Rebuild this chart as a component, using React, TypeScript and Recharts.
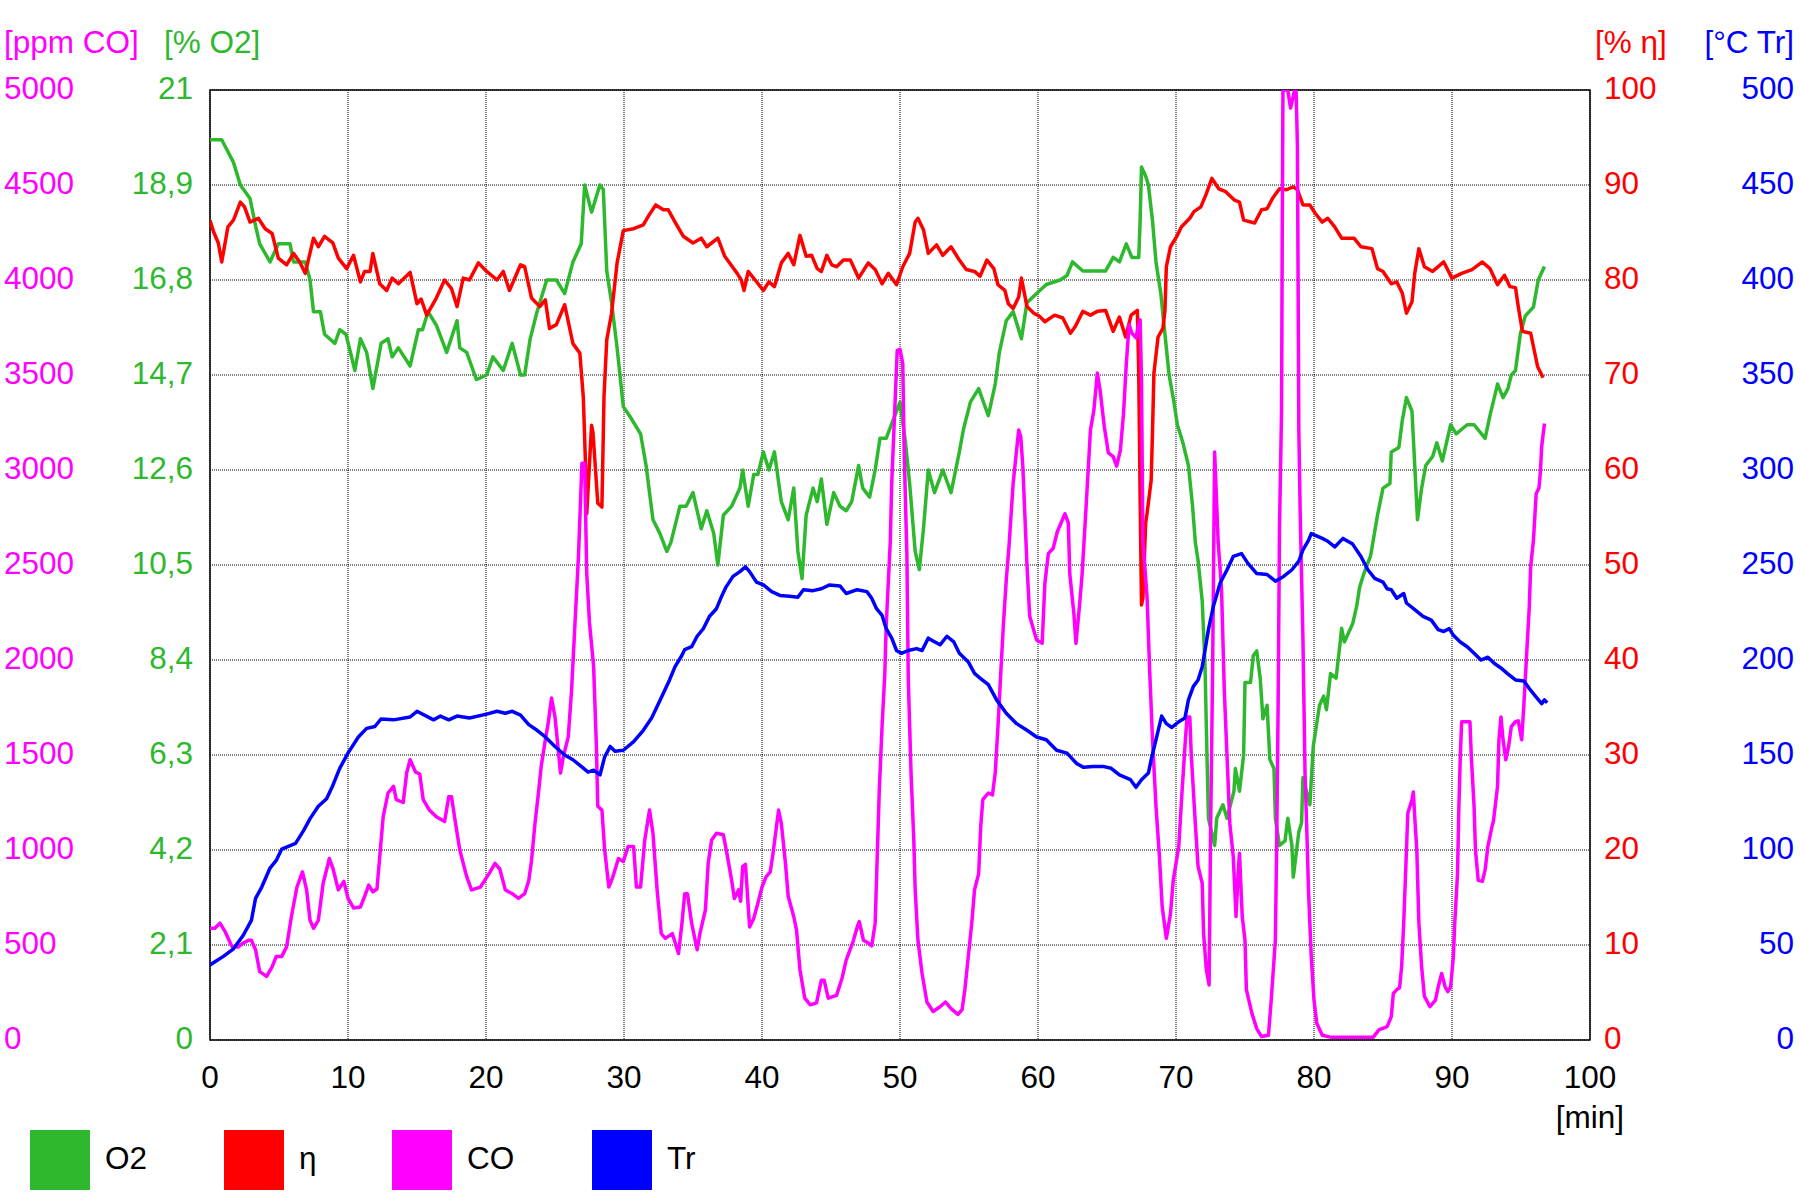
import React from 'react';
import { LineChart, Line, XAxis, YAxis, CartesianGrid, ReferenceArea } from 'recharts';

const FONT = '"Liberation Sans", Arial, sans-serif';
const FS = 31.5;

const GREEN = '#2eb82e';
const RED = '#ff0000';
const MAGENTA = '#ff00ff';
const BLUE = '#0000ff';

// axis ticks
const minuteTicks = [0, 10, 20, 30, 40, 50, 60, 70, 80, 90, 100];
const coTicks = [0, 500, 1000, 1500, 2000, 2500, 3000, 3500, 4000, 4500, 5000];
const o2Ticks = [0, 2.1, 4.2, 6.3, 8.4, 10.5, 12.6, 14.7, 16.8, 18.9, 21];
const etaTicks = [0, 10, 20, 30, 40, 50, 60, 70, 80, 90, 100];
const trTicks = [0, 50, 100, 150, 200, 250, 300, 350, 400, 450, 500];

// [min, % O2]
const o2Points: [number, number][] = [
  [0, 19.9], [0.85, 19.9], [1.7, 19.4], [2.2, 18.9], [2.9, 18.6], [3.3, 18.0], [3.6, 17.6], [4.35, 17.2],
  [4.95, 17.6], [5.8, 17.6], [6.05, 17.2], [6.9, 17.2], [7.25, 16.8], [7.5, 16.1], [8.0, 16.1], [8.3, 15.6],
  [9.05, 15.4], [9.4, 15.7], [9.85, 15.6], [10.5, 14.8], [10.9, 15.5], [11.35, 15.2], [11.8, 14.4], [12.4, 15.4],
  [12.9, 15.5], [13.2, 15.1], [13.65, 15.3], [14.5, 14.9], [15.1, 15.7], [15.4, 15.7], [15.8, 16.1], [16.4, 15.8],
  [17.15, 15.2], [17.9, 15.9], [18.1, 15.3], [18.6, 15.2], [19.3, 14.6], [20.05, 14.7], [20.5, 15.1], [21.25, 14.8],
  [21.9, 15.4], [22.5, 14.7], [22.8, 14.7], [23.2, 15.5], [23.7, 16.1], [24.4, 16.8], [25.1, 16.8], [25.7, 16.5],
  [26.3, 17.2], [26.9, 17.6], [27.15, 18.9], [27.65, 18.3], [28.25, 18.9], [28.5, 18.8], [28.75, 17.0], [29.1, 16.3],
  [29.5, 15.3], [29.95, 14.0], [30.4, 13.8], [31.2, 13.4], [31.6, 12.7], [32.1, 11.5], [32.6, 11.2], [33.1, 10.8],
  [33.4, 11.0], [34.05, 11.8], [34.5, 11.8], [35.0, 12.1], [35.6, 11.3], [36.0, 11.7], [36.5, 11.2], [36.8, 10.5],
  [37.2, 11.6], [37.8, 11.8], [38.4, 12.2], [38.6, 12.6], [39.0, 11.8], [39.4, 12.5], [39.7, 12.5], [40.1, 13.0],
  [40.5, 12.6], [40.9, 13.0], [41.4, 11.9], [41.9, 11.5], [42.3, 12.2], [42.6, 10.8], [42.9, 10.2], [43.2, 11.6],
  [43.7, 12.2], [44.0, 11.9], [44.3, 12.4], [44.7, 11.4], [45.2, 12.1], [45.65, 11.8], [46.1, 11.7], [46.5, 11.9],
  [47.0, 12.7], [47.3, 12.2], [47.8, 12.0], [48.2, 12.6], [48.55, 13.3], [49.0, 13.3], [49.5, 13.7], [50.0, 14.1],
  [50.4, 13.2], [50.7, 12.3], [51.1, 10.8], [51.4, 10.4], [51.7, 11.3], [52.05, 12.6], [52.5, 12.1], [53.1, 12.6],
  [53.7, 12.1], [54.3, 13.0], [54.6, 13.5], [55.1, 14.1], [55.7, 14.4], [56.4, 13.8], [56.9, 14.5], [57.2, 15.2],
  [57.7, 15.9], [58.2, 16.1], [58.8, 15.5], [59.2, 16.3], [59.9, 16.5], [60.6, 16.7], [61.6, 16.8], [62.1, 16.9],
  [62.5, 17.2], [63.25, 17.0], [64.0, 17.0], [64.9, 17.0], [65.45, 17.3], [65.9, 17.2], [66.4, 17.6], [66.8, 17.3],
  [67.3, 17.3], [67.4, 18.1], [67.5, 19.3], [67.8, 19.1], [68.0, 18.9], [68.3, 18.1], [68.55, 17.2], [68.9, 16.5],
  [69.2, 15.6], [69.5, 14.7], [69.85, 14.1], [70.1, 13.6], [70.5, 13.2], [70.9, 12.7], [71.2, 11.8], [71.4, 11.0],
  [71.6, 10.6], [71.9, 9.7], [72.1, 8.3], [72.2, 6.9], [72.35, 4.9], [72.8, 4.3], [72.95, 4.9], [73.4, 5.2],
  [73.7, 4.9], [74.2, 5.5], [74.3, 6.0], [74.6, 5.5], [74.9, 6.3], [75.0, 7.9], [75.4, 7.9], [75.6, 8.5],
  [75.85, 8.6], [76.1, 8.0], [76.3, 7.1], [76.6, 7.4], [76.8, 6.2], [77.1, 6.0], [77.2, 4.9], [77.5, 4.3],
  [77.9, 4.4], [78.1, 4.9], [78.4, 4.3], [78.5, 3.6], [78.9, 4.6], [79.1, 4.8], [79.2, 5.8], [79.7, 5.2],
  [79.95, 6.5], [80.4, 7.4], [80.7, 7.6], [80.9, 7.3], [81.2, 8.1], [81.6, 8.0], [81.9, 8.8], [82.0, 9.1],
  [82.2, 8.8], [82.8, 9.2], [83.1, 9.6], [83.3, 10.0], [83.6, 10.3], [84.1, 10.7], [84.6, 11.6], [85.0, 12.2],
  [85.5, 12.3], [85.6, 13.0], [86.15, 13.1], [86.4, 13.7], [86.7, 14.2], [87.1, 13.9], [87.3, 12.7], [87.5, 11.5],
  [87.8, 12.2], [88.1, 12.7], [88.6, 12.9], [88.9, 13.2], [89.3, 12.8], [89.9, 13.6], [90.3, 13.4], [91.1, 13.6],
  [91.6, 13.6], [92.4, 13.3], [92.75, 13.8], [93.3, 14.5], [93.7, 14.2], [94.05, 14.4], [94.3, 14.7], [94.6, 14.8],
  [94.95, 15.6], [95.3, 16.0], [95.9, 16.2], [96.25, 16.8], [96.7, 17.1],
];

// [min, % eta]
const etaPoints: [number, number][] = [
  [0, 86.3], [0.25, 85.1], [0.6, 83.9], [0.85, 81.9], [1.3, 85.6], [1.7, 86.3], [2.2, 88.2], [2.5, 87.7],
  [2.9, 86.1], [3.5, 86.5], [4.0, 85.4], [4.5, 84.9], [4.95, 82.3], [5.55, 81.6], [6.05, 82.8], [6.5, 81.9],
  [6.9, 80.7], [7.5, 84.4], [7.85, 83.5], [8.3, 84.6], [8.9, 83.9], [9.3, 82.3], [9.9, 81.2], [10.4, 82.6],
  [10.9, 79.8], [11.2, 80.9], [11.6, 80.9], [11.8, 82.8], [12.3, 79.6], [12.8, 78.9], [13.2, 80.2], [13.65, 79.6],
  [14.5, 80.8], [15.0, 77.5], [15.3, 78.0], [15.7, 76.3], [16.4, 78.1], [17.0, 80.0], [17.5, 79.1], [17.9, 77.2],
  [18.35, 80.2], [18.8, 80.0], [19.45, 81.8], [20.05, 80.9], [20.8, 80.0], [21.25, 80.9], [21.7, 78.9], [22.5, 81.6],
  [22.8, 81.4], [23.3, 78.1], [23.9, 77.2], [24.3, 77.9], [24.6, 74.9], [25.1, 75.3], [25.7, 77.4], [26.3, 73.3],
  [26.8, 72.3], [27.05, 67.7], [27.2, 61.1], [27.3, 55.4], [27.65, 64.7], [27.75, 64.0], [28.1, 56.5], [28.4, 56.1],
  [28.55, 67.7], [28.75, 73.7], [29.1, 76.5], [29.5, 81.8], [29.95, 85.2], [30.7, 85.4], [31.4, 85.8], [31.8, 86.8],
  [32.3, 87.9], [32.85, 87.4], [33.2, 87.4], [33.7, 86.1], [34.3, 84.6], [35.0, 83.9], [35.6, 84.4], [36.0, 83.5],
  [36.8, 84.4], [37.3, 82.5], [38.2, 80.7], [38.5, 80.0], [38.7, 78.9], [39.0, 80.9], [39.5, 80.0], [40.1, 78.9],
  [40.5, 79.8], [40.9, 79.3], [41.4, 81.8], [41.9, 82.8], [42.3, 81.6], [42.75, 84.7], [43.2, 82.5], [43.6, 82.6],
  [44.0, 81.2], [44.3, 80.9], [44.7, 82.6], [45.05, 81.6], [45.4, 81.4], [45.9, 82.1], [46.4, 82.1], [47.0, 80.2],
  [47.7, 81.8], [48.2, 81.1], [48.7, 79.6], [49.15, 80.7], [49.75, 79.5], [50.2, 81.4], [50.7, 82.8], [51.1, 86.1],
  [51.3, 86.5], [51.7, 85.3], [52.05, 82.8], [52.65, 83.7], [53.1, 82.6], [53.7, 83.5], [54.3, 82.1], [54.8, 81.1],
  [55.4, 80.9], [55.8, 80.4], [56.3, 82.1], [56.8, 81.2], [57.1, 79.5], [57.6, 78.9], [57.85, 77.5], [58.2, 77.0],
  [58.6, 78.2], [58.8, 80.2], [59.2, 77.2], [59.7, 76.5], [60.1, 76.2], [60.5, 75.6], [61.2, 76.3], [61.8, 76.0],
  [62.35, 74.4], [62.7, 75.1], [63.25, 76.7], [63.8, 76.3], [64.3, 76.7], [64.9, 76.8], [65.45, 74.6], [65.9, 76.1],
  [66.35, 74.0], [66.75, 76.3], [67.2, 76.8], [67.3, 70.2], [67.4, 57.2], [67.5, 45.8], [67.6, 46.5], [67.8, 54.4],
  [67.9, 55.4], [68.2, 58.9], [68.3, 64.2], [68.4, 70.2], [68.7, 74.0], [69.05, 74.9], [69.2, 76.8], [69.3, 81.4],
  [69.6, 83.5], [70.1, 84.7], [70.4, 85.6], [71.0, 86.5], [71.3, 87.2], [71.8, 87.7], [72.2, 89.1], [72.6, 90.7],
  [73.1, 89.6], [73.6, 89.3], [74.25, 88.4], [74.6, 88.2], [74.9, 86.3], [75.7, 86.0], [76.2, 87.4], [76.6, 87.5],
  [77.0, 88.6], [77.5, 89.6], [78.0, 89.5], [78.5, 89.8], [78.8, 89.5], [79.2, 87.9], [79.7, 87.9], [80.1, 87.0],
  [80.6, 86.1], [81.0, 86.5], [81.5, 85.6], [82.0, 84.4], [82.9, 84.4], [83.4, 83.5], [84.2, 83.3], [84.6, 81.2],
  [85.0, 80.9], [85.6, 79.6], [86.0, 79.8], [86.4, 78.6], [86.7, 76.5], [87.1, 77.7], [87.3, 80.7], [87.6, 83.3],
  [88.0, 81.4], [88.6, 80.9], [89.4, 81.9], [90.0, 80.2], [90.7, 80.7], [91.45, 81.1], [92.2, 81.9], [92.75, 81.2],
  [93.3, 79.5], [93.8, 80.5], [94.2, 79.3], [94.6, 79.2], [94.8, 77.2], [95.1, 74.6], [95.7, 74.4], [95.9, 73.0],
  [96.2, 70.9], [96.6, 69.7],
];

// [min, ppm CO]
const coPoints: [number, number][] = [
  [0, 588], [0.35, 588], [0.72, 615], [1.1, 570], [1.6, 490], [2.05, 490], [2.4, 510], [2.8, 525],
  [3.0, 525], [3.3, 475], [3.6, 360], [4.1, 335], [4.5, 385], [4.8, 440], [5.2, 440], [5.55, 490],
  [5.9, 650], [6.3, 805], [6.7, 885], [7.0, 790], [7.25, 630], [7.5, 588], [7.85, 630], [8.2, 825],
  [8.65, 955], [8.9, 905], [9.3, 790], [9.7, 835], [10.0, 745], [10.4, 695], [10.9, 700], [11.2, 755],
  [11.5, 815], [11.8, 780], [12.1, 795], [12.3, 965], [12.55, 1175], [12.9, 1300], [13.3, 1335], [13.5, 1265],
  [14.0, 1250], [14.25, 1405], [14.5, 1475], [14.9, 1410], [15.2, 1400], [15.45, 1265], [15.9, 1210], [16.4, 1175],
  [17.0, 1150], [17.3, 1280], [17.5, 1280], [17.75, 1160], [18.1, 1000], [18.6, 860], [18.95, 790], [19.6, 805],
  [20.3, 885], [20.65, 930], [21.0, 900], [21.4, 790], [21.9, 770], [22.35, 745], [22.8, 770], [23.1, 840],
  [23.3, 945], [23.55, 1140], [23.8, 1300], [24.0, 1440], [24.3, 1580], [24.5, 1665], [24.75, 1800], [25.0, 1700],
  [25.4, 1405], [25.6, 1490], [25.96, 1595], [26.2, 1840], [26.45, 2195], [26.7, 2545], [26.95, 3035], [27.15, 3035],
  [27.3, 2455], [27.5, 2195], [27.8, 1965], [28.0, 1545], [28.1, 1230], [28.4, 1210], [28.6, 1000], [28.9, 805],
  [29.2, 860], [29.6, 955], [29.95, 940], [30.3, 1018], [30.7, 1018], [30.9, 805], [31.2, 805], [31.5, 1050],
  [31.85, 1210], [32.1, 1088], [32.4, 790], [32.7, 560], [33.0, 535], [33.5, 560], [33.95, 455], [34.2, 615],
  [34.4, 770], [34.6, 770], [34.9, 615], [35.3, 475], [35.5, 560], [35.9, 685], [36.1, 930], [36.35, 1053],
  [36.7, 1088], [37.2, 1080], [37.5, 965], [37.8, 840], [38.0, 745], [38.3, 790], [38.45, 730], [38.6, 913],
  [38.8, 925], [39.1, 595], [39.4, 640], [39.7, 720], [40.0, 805], [40.3, 860], [40.6, 885], [40.8, 983],
  [41.2, 1210], [41.4, 1140], [41.7, 930], [41.9, 755], [42.3, 650], [42.5, 580], [42.75, 370], [43.1, 220],
  [43.5, 185], [43.95, 195], [44.3, 315], [44.5, 315], [44.8, 220], [45.4, 235], [45.8, 325], [46.1, 420],
  [46.6, 518], [46.9, 595], [47.05, 623], [47.35, 525], [47.7, 510], [47.95, 495], [48.2, 615], [48.35, 965],
  [48.5, 1315], [48.7, 1650], [48.9, 1930], [49.0, 2180], [49.3, 2630], [49.4, 2930], [49.6, 3280], [49.8, 3630],
  [50.0, 3635], [50.2, 3560], [50.3, 3105], [50.5, 2550], [50.6, 1900], [50.8, 1405], [51.0, 1053], [51.1, 790],
  [51.3, 525], [51.6, 350], [51.95, 200], [52.4, 150], [52.9, 175], [53.3, 200], [53.7, 165], [54.2, 135],
  [54.5, 160], [54.7, 265], [54.95, 440], [55.2, 615], [55.4, 790], [55.7, 875], [55.85, 1125], [56.0, 1265],
  [56.4, 1300], [56.7, 1290], [56.9, 1405], [57.1, 1650], [57.3, 1930], [57.5, 2195], [57.7, 2420], [57.9, 2600],
  [58.2, 2930], [58.6, 3210], [58.75, 3175], [58.9, 3020], [59.2, 2500], [59.4, 2230], [59.9, 2105], [60.3, 2088],
  [60.5, 2405], [60.75, 2560], [61.1, 2588], [61.4, 2675], [61.95, 2770], [62.2, 2720], [62.3, 2455], [62.6, 2245],
  [62.75, 2088], [63.0, 2280], [63.2, 2455], [63.5, 2825], [63.8, 3210], [64.05, 3315], [64.3, 3510], [64.5, 3420],
  [64.8, 3230], [65.1, 3090], [65.45, 3070], [65.7, 3020], [65.97, 3105], [66.2, 3300], [66.4, 3560], [66.6, 3765],
  [66.8, 3720], [67.1, 3695], [67.25, 3755], [67.4, 3790], [67.5, 3475], [67.6, 2630], [67.9, 2335], [68.1, 1930],
  [68.3, 1580], [68.55, 1230], [68.8, 965], [69.0, 700], [69.3, 535], [69.6, 665], [69.8, 840], [70.2, 1018],
  [70.4, 1265], [70.65, 1545], [70.8, 1700], [71.0, 1700], [71.1, 1510], [71.4, 1140], [71.6, 913], [71.9, 825],
  [72.0, 560], [72.2, 370], [72.4, 290], [72.5, 1053], [72.65, 1930], [72.8, 3095], [73.05, 2630], [73.3, 2370],
  [73.5, 1840], [73.7, 1490], [73.9, 1140], [74.15, 965], [74.35, 650], [74.5, 875], [74.6, 983], [74.8, 650],
  [75.0, 525], [75.1, 265], [75.5, 140], [75.85, 60], [76.2, 18], [76.7, 25], [76.9, 210], [77.2, 525],
  [77.3, 1053], [77.4, 1755], [77.5, 2700], [77.65, 3315], [77.7, 4265], [77.75, 5000], [78.1, 5000], [78.3, 4905],
  [78.6, 5000], [78.7, 5000], [78.8, 4700], [78.85, 3965], [78.9, 3210], [79.0, 2770], [79.2, 2105], [79.35, 1405],
  [79.5, 1053], [79.6, 790], [79.8, 440], [80.0, 210], [80.2, 88], [80.6, 25], [81.2, 15], [84.3, 15],
  [84.7, 53], [85.3, 70], [85.6, 123], [85.75, 245], [86.0, 265], [86.2, 275], [86.35, 385], [86.5, 615],
  [86.7, 1000], [86.8, 1195], [87.1, 1265], [87.2, 1305], [87.3, 1175], [87.45, 1000], [87.6, 615], [87.8, 385],
  [88.0, 230], [88.4, 175], [88.8, 210], [89.0, 280], [89.25, 350], [89.5, 280], [89.7, 255], [89.9, 280],
  [90.1, 440], [90.2, 615], [90.4, 875], [90.5, 1230], [90.6, 1490], [90.7, 1675], [91.3, 1675], [91.4, 1490],
  [91.6, 1230], [91.7, 1000], [91.9, 840], [92.2, 835], [92.4, 895], [92.6, 1018], [92.9, 1125], [93.0, 1150],
  [93.3, 1335], [93.4, 1580], [93.55, 1700], [93.7, 1580], [93.9, 1475], [94.1, 1545], [94.3, 1650], [94.6, 1675],
  [94.8, 1680], [95.05, 1580], [95.2, 1755], [95.4, 2018], [95.6, 2280], [95.7, 2490], [95.9, 2630], [96.1, 2875],
  [96.3, 2905], [96.4, 2983], [96.5, 3125], [96.7, 3245],
];

// [min, °C Tr]
const trPoints: [number, number][] = [
  [0, 39.5], [0.97, 44], [1.7, 48], [2.4, 55], [3.0, 63], [3.3, 74.5], [3.75, 80.5], [4.35, 90.5],
  [4.8, 94.5], [5.2, 100.5], [6.2, 103.5], [6.8, 110.5], [7.25, 116.5], [7.85, 123], [8.45, 127], [8.9, 134],
  [9.4, 143], [10.0, 151], [10.75, 159.5], [11.35, 164], [11.95, 165], [12.4, 169], [13.3, 168.5], [14.5, 170],
  [15.0, 173], [16.2, 168.5], [16.7, 170.5], [17.3, 168.5], [17.9, 170.5], [18.8, 169.5], [20.05, 171.5], [20.8, 173],
  [21.4, 172], [21.9, 173], [22.5, 171], [23.1, 166], [23.7, 163], [24.3, 159.5], [25.0, 154.5], [25.7, 150],
  [26.3, 147.5], [26.9, 144], [27.4, 141], [27.8, 142], [28.26, 139.5], [28.6, 149], [29.0, 154.5], [29.35, 152],
  [29.95, 152.5], [30.7, 157], [31.4, 163], [32.0, 169.5], [32.4, 175.5], [32.85, 182.5], [33.3, 189.5], [33.7, 196.5],
  [34.2, 202.5], [34.4, 205.5], [34.9, 207], [35.3, 212.5], [35.75, 216.5], [36.2, 223], [36.7, 227], [37.1, 234],
  [37.4, 238.5], [37.9, 244], [38.4, 246.5], [38.8, 249], [39.1, 246.5], [39.6, 241], [40.1, 239.5], [40.7, 236],
  [41.3, 234], [42.0, 233.5], [42.6, 233], [43.0, 237], [43.7, 236.5], [44.3, 237.5], [44.9, 239.5], [45.65, 239],
  [46.1, 235], [46.9, 237], [47.6, 236], [47.95, 232.5], [48.3, 227], [48.7, 223.5], [49.0, 216.5], [49.4, 211.5],
  [49.75, 205], [50.1, 203.5], [50.6, 205], [51.2, 206], [51.6, 205], [52.05, 211.5], [52.4, 210], [52.9, 208],
  [53.4, 212.5], [53.9, 209.5], [54.3, 203.5], [54.95, 199], [55.4, 193], [55.8, 190.5], [56.4, 187], [57.0, 179],
  [57.7, 172], [58.45, 166.5], [59.2, 163], [59.9, 159.5], [60.6, 158], [61.35, 152.5], [62.1, 151], [62.8, 145.5],
  [63.3, 143.5], [64.0, 144], [64.7, 144], [65.3, 143], [65.9, 139.5], [66.7, 137], [67.1, 133], [67.5, 137],
  [68.0, 140.5], [68.2, 147.5], [68.6, 159.5], [68.96, 170.5], [69.3, 166.5], [69.7, 164.5], [70.2, 167.5], [70.65, 169.5],
  [70.9, 179], [71.25, 186], [71.6, 189.5], [71.9, 196.5], [72.1, 205], [72.35, 216], [72.7, 228], [73.2, 240.5],
  [73.7, 247.5], [74.15, 254.5], [74.75, 256], [75.2, 251], [75.85, 245.5], [76.6, 245], [77.2, 241.5], [77.8, 244],
  [78.4, 247.5], [78.9, 252], [79.2, 258], [79.6, 263], [79.8, 266.5], [80.6, 264], [81.0, 262.5], [81.5, 259.5],
  [82.1, 264], [82.8, 261], [83.4, 254.5], [83.9, 247.5], [84.4, 243], [85.0, 241], [85.3, 237.5], [85.6, 237],
  [86.0, 232.5], [86.5, 235], [86.7, 230], [87.3, 226.5], [87.9, 223], [88.5, 221], [89.0, 216], [89.4, 215],
  [89.8, 216.5], [90.1, 213], [90.6, 209.5], [91.1, 207], [91.6, 203.5], [92.1, 200], [92.6, 201.5], [93.1, 198],
  [93.6, 195.5], [94.0, 193], [94.6, 189.5], [95.2, 189], [95.6, 185], [96.1, 180.5], [96.5, 177], [96.7, 179],
  [96.9, 177.5],
];

const toRows = (pts: [number, number][]) => pts.map(([t, v]) => ({ t, v }));

const series = [
  { name: 'O2', color: GREEN, axis: 'o2', rows: toRows(o2Points) },
  { name: 'η', color: RED, axis: 'eta', rows: toRows(etaPoints) },
  { name: 'CO', color: MAGENTA, axis: 'co', rows: toRows(coPoints) },
  { name: 'Tr', color: BLUE, axis: 'tr', rows: toRows(trPoints) },
];

const fmtComma = (v: number) => String(v).replace('.', ',');

// y tick labels sit at fixed x positions like the original software
const makeYTick = (x: number, anchor: 'start' | 'end', color: string, fmt: (v: number) => string) =>
  (props: any) => (
    <text x={x} y={props.y + 8.5} textAnchor={anchor} fill={color} fontSize={FS} fontFamily={FONT}>
      {fmt(props.payload.value)}
    </text>
  );

const XTick = (props: any) => (
  <text x={props.x} y={1088} textAnchor="middle" fill="#000" fontSize={FS} fontFamily={FONT}>
    {props.payload.value}
  </text>
);

const legendX = [30, 224, 392, 592];

export default function App() {
  return (
    <div style={{ position: 'absolute', left: 0, top: 0, width: 1800, height: 1200, background: '#fff' }}>
      <LineChart width={1800} height={1200} margin={{ top: 90, right: 0, bottom: 0, left: 0 }}>
        <CartesianGrid yAxisId="eta" stroke="#000" strokeWidth={1} strokeDasharray="1 1" />
        <XAxis
          dataKey="t"
          type="number"
          domain={[0, 100]}
          ticks={minuteTicks}
          interval={0}
          height={160}
          tick={XTick}
          tickLine={false}
          axisLine={false}
          allowDataOverflow
        />
        <YAxis yAxisId="o2" orientation="left" width={105} domain={[0, 21]} ticks={o2Ticks} interval={0}
          tick={makeYTick(193, 'end', GREEN, fmtComma)} tickLine={false} axisLine={false} allowDataOverflow />
        <YAxis yAxisId="co" orientation="left" width={105} domain={[0, 5000]} ticks={coTicks} interval={0}
          tick={makeYTick(4, 'start', MAGENTA, String)} tickLine={false} axisLine={false} allowDataOverflow />
        <YAxis yAxisId="eta" orientation="right" width={105} domain={[0, 100]} ticks={etaTicks} interval={0}
          tick={makeYTick(1604, 'start', RED, String)} tickLine={false} axisLine={false} allowDataOverflow />
        <YAxis yAxisId="tr" orientation="right" width={105} domain={[0, 500]} ticks={trTicks} interval={0}
          tick={makeYTick(1794, 'end', BLUE, String)} tickLine={false} axisLine={false} allowDataOverflow />
        {series.map((s) => (
          <Line
            key={s.name}
            yAxisId={s.axis}
            data={s.rows}
            dataKey="v"
            name={s.name}
            type="linear"
            stroke={s.color}
            strokeWidth={3.5}
            strokeLinejoin="round"
            dot={false}
            activeDot={false}
            isAnimationActive={false}
          />
        ))}
        <ReferenceArea yAxisId="eta" x1={0} x2={100} y1={0} y2={100} fill="none" stroke="#000" strokeWidth={1.5} />
      </LineChart>

      <svg width={1800} height={1200} style={{ position: 'absolute', left: 0, top: 0, pointerEvents: 'none' }}>
        <g fontFamily={FONT} fontSize={FS}>
          <text x={4} y={53} fill={MAGENTA}>[ppm CO]</text>
          <text x={164} y={53} fill={GREEN}>[% O2]</text>
          <text x={1595} y={53} fill={RED}>[% η]</text>
          <text x={1794} y={53} fill={BLUE} textAnchor="end">[°C Tr]</text>
          <text x={1590} y={1128} fill="#000" textAnchor="middle">[min]</text>
          {series.map((s, i) => (
            <g key={s.name}>
              <rect x={legendX[i]} y={1130} width={60} height={60} fill={s.color} />
              <text x={legendX[i] + 75} y={1169} fill="#000">{s.name}</text>
            </g>
          ))}
        </g>
      </svg>
    </div>
  );
}
